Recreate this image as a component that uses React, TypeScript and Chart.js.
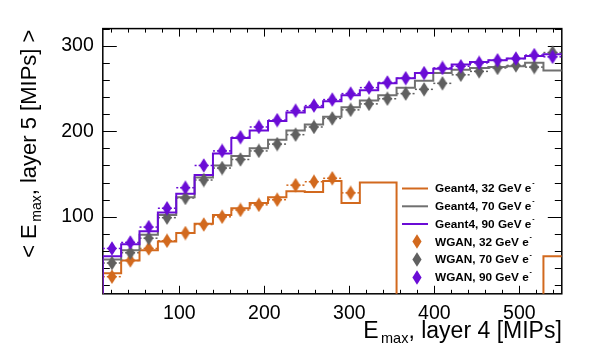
import React, { useEffect, useRef } from 'react';
import { Chart, registerables } from 'chart.js';

Chart.register(...registerables);

// ---- axes ----
const X_MIN = 10;
const X_MAX = 550;
const Y_MIN = 10;
const Y_MAX = 320;
const xTicks = [100, 200, 300, 400, 500];
const yTicks = [100, 200, 300];
const MINOR_STEP = 20;

// ---- binning (25 bins from 10 to 550) ----
const binEdges = [10, 31.6, 53.2, 74.8, 96.4, 118, 139.6, 161.2, 182.8, 204.4, 226, 247.6, 269.2, 290.8, 312.4, 334, 355.6, 377.2, 398.8, 420.4, 442, 463.6, 485.2, 506.8, 528.4, 550];

// ---- Geant4 histograms ----
const geant32 = [34, 49, 61, 71, 81, 92, 102, 110, 116, 123, 130, 129, 142, 116, 140, 140, 0, 0, 0, 0, 0, 0, 0, 0, 54];
const geant70 = [50, 61, 79, 102, 123, 146, 160, 171, 180, 190, 201, 208, 217, 228, 236, 242, 251, 259, 268, 272, 274, 275, 276, 280, 271];
const geant90 = [54, 68, 83, 105, 127, 149, 174, 192, 201, 212, 222, 228, 235, 242, 248, 256, 262, 268, 273, 278, 281, 283, 285, 288, 290];

// ---- WGAN points ----
const wgan32 = [30, 49, 63, 72, 81, 91, 100, 108, 114, 120, 137, 141, 145, 128, null, null, null, null, null, null, null, null, null, null, null];
const wgan70 = [46, 58, 75, 99, 122, 143, 157, 167, 177, 185, 196, 205, 215, 225, 232, 238, 244, 249, 256, 266, 270, 274, 277, 275, 292];
const wgan90 = [63, 70, 88, 110, 134, 160, 177, 193, 205, 213, 224, 230, 237, 244, 251, 257, 262, 268, 274, 276, 280, 283, 285, 289, 287];

const legendLabels = ['Geant4, 32 GeV e', 'Geant4, 70 GeV e', 'Geant4, 90 GeV e', 'WGAN, 32 GeV e', 'WGAN, 70 GeV e', 'WGAN, 90 GeV e'];

const ORANGE = '#d2691e';
const GRAY_LINE = '#707070';
const GRAY_MARK = '#606060';
const PURPLE = '#6a0cd6';

const FONT = "'Liberation Sans', Arial, Helvetica, sans-serif";

function makeDiamond(color: string) {
  const c = document.createElement('canvas');
  c.width = 10;
  c.height = 15;
  const ctx = c.getContext('2d')!;
  ctx.fillStyle = color;
  ctx.beginPath();
  ctx.moveTo(5, 0.3);
  ctx.lineTo(9.6, 7.5);
  ctx.lineTo(5, 14.7);
  ctx.lineTo(0.4, 7.5);
  ctx.closePath();
  ctx.fill();
  return c;
}

function histPoints(vals: number[]) {
  const pts: { x: number; y: number }[] = [{ x: binEdges[0], y: Y_MIN }];
  vals.forEach((v, i) => {
    pts.push({ x: binEdges[i], y: v });
    pts.push({ x: binEdges[i + 1], y: v });
  });
  return pts;
}

function markerPoints(vals: (number | null)[]) {
  const pts: { x: number; y: number }[] = [];
  vals.forEach((v, i) => {
    if (v !== null) pts.push({ x: (binEdges[i] + binEdges[i + 1]) / 2, y: v });
  });
  return pts;
}

export default function App() {
  const ref = useRef<HTMLCanvasElement | null>(null);

  useEffect(() => {
    if (!ref.current) return;
    const dOrange = makeDiamond(ORANGE);
    const dGray = makeDiamond(GRAY_MARK);
    const dPurple = makeDiamond(PURPLE);

    const wganSets = [
      { vals: wgan90, color: PURPLE },
      { vals: wgan70, color: GRAY_MARK },
      { vals: wgan32, color: ORANGE },
    ];

    const framePlugin = {
      id: 'rootFrame',
      beforeDatasetsDraw(chart: any) {
        const ctx = chart.ctx as CanvasRenderingContext2D;
        const { left, right, top, bottom } = chart.chartArea;
        const xs = chart.scales.x;
        const ys = chart.scales.y;
        ctx.save();
        ctx.strokeStyle = '#000';
        ctx.lineWidth = 1;
        ctx.beginPath();
        for (let v = MINOR_STEP; v <= X_MAX; v += MINOR_STEP) {
          if (v <= X_MIN) continue;
          const px = Math.round(xs.getPixelForValue(v)) + 0.5;
          const len = xTicks.includes(v) ? 8 : 4;
          ctx.moveTo(px, bottom);
          ctx.lineTo(px, bottom - len);
          ctx.moveTo(px, top);
          ctx.lineTo(px, top + len);
        }
        for (let v = MINOR_STEP; v <= Y_MAX; v += MINOR_STEP) {
          if (v <= Y_MIN) continue;
          const py = Math.round(ys.getPixelForValue(v)) + 0.5;
          const len = yTicks.includes(v) ? 14 : 7;
          ctx.moveTo(left, py);
          ctx.lineTo(left + len, py);
          ctx.moveTo(right, py);
          ctx.lineTo(right - len, py);
        }
        ctx.stroke();
        ctx.lineWidth = 1.5;
        ctx.strokeRect(left, top, right - left, bottom - top);

        // dashed horizontal (x) error bars for WGAN points
        ctx.beginPath();
        ctx.rect(left, top, right - left, bottom - top);
        ctx.clip();
        ctx.lineWidth = 1.5;
        ctx.setLineDash([2, 2]);
        wganSets.forEach((s) => {
          ctx.strokeStyle = s.color;
          s.vals.forEach((v, i) => {
            if (v === null) return;
            const py = ys.getPixelForValue(v);
            const x0 = xs.getPixelForValue(binEdges[i]);
            const x1 = xs.getPixelForValue(binEdges[i + 1]);
            ctx.beginPath();
            ctx.moveTo(x0, py);
            ctx.lineTo(x1, py);
            ctx.stroke();
          });
        });
        ctx.restore();
      },
      afterDraw(chart: any) {
        const ctx = chart.ctx as CanvasRenderingContext2D;
        const { right, top } = chart.chartArea;
        ctx.save();
        ctx.fillStyle = '#000';
        ctx.textBaseline = 'alphabetic';
        // x title
        {
          const big = 23;
          const small = 14.5;
          const main = 'E';
          const sub = 'max';
          const rest = ', layer 4 [MIPs]';
          ctx.font = `${big}px ${FONT}`;
          const wM = ctx.measureText(main).width;
          const wR = ctx.measureText(rest).width;
          ctx.font = `${small}px ${FONT}`;
          const wS = ctx.measureText(sub).width;
          const gap = 2.5;
          const total = wM + gap + wS + wR;
          let x = right - total;
          const base = 338;
          ctx.font = `${big}px ${FONT}`;
          ctx.fillText(main, x, base);
          x += wM + gap;
          ctx.font = `${small}px ${FONT}`;
          ctx.fillText(sub, x, base + 5);
          x += wS;
          ctx.font = `${big}px ${FONT}`;
          ctx.fillText(rest, x, base);
        }
        // y title (rotated)
        {
          const big = 22;
          const small = 14;
          const pre = '< E';
          const sub = 'max';
          const rest = ', layer 5 [MIPs] >';
          ctx.font = `${big}px ${FONT}`;
          const wP = ctx.measureText(pre).width;
          const wR = ctx.measureText(rest).width;
          ctx.font = `${small}px ${FONT}`;
          const wS = ctx.measureText(sub).width;
          const gap = 2.5;
          const total = wP + gap + wS + wR;
          ctx.save();
          ctx.translate(36, top + 1 + total);
          ctx.rotate(-Math.PI / 2);
          let x = 0;
          ctx.font = `${big}px ${FONT}`;
          ctx.fillText(pre, x, 0);
          x += wP + gap;
          ctx.font = `${small}px ${FONT}`;
          ctx.fillText(sub, x, 5);
          x += wS;
          ctx.font = `${big}px ${FONT}`;
          ctx.fillText(rest, x, 0);
          ctx.restore();
        }
        // legend
        const rowY = [188.5, 206.3, 224, 241.8, 259.6, 277.4];
        const colors = [ORANGE, GRAY_LINE, PURPLE];
        const marks = [dOrange, dGray, dPurple];
        ctx.textBaseline = 'middle';
        legendLabels.forEach((lab, i) => {
          const y = rowY[i];
          if (i < 3) {
            ctx.strokeStyle = colors[i];
            ctx.lineWidth = 2;
            ctx.beginPath();
            ctx.moveTo(402, y);
            ctx.lineTo(428, y);
            ctx.stroke();
          } else {
            const m = marks[i - 3];
            ctx.drawImage(m, 417 - m.width / 2, Math.round(y - m.height / 2));
          }
          ctx.fillStyle = '#000';
          ctx.font = `bold 11.8px ${FONT}`;
          ctx.fillText(lab, 435, y + 0.5);
          const w = ctx.measureText(lab).width;
          ctx.font = `bold 7px ${FONT}`;
          ctx.fillText('-', w + 435 + 0.8, y - 5);
        });
        ctx.restore();
      },
    };

    const chart = new Chart(ref.current, {
      type: 'line',
      data: {
        datasets: [
          { label: 'WGAN 90', data: markerPoints(wgan90), showLine: false, pointStyle: dPurple as any, pointRadius: 6, borderColor: PURPLE, backgroundColor: PURPLE },
          { label: 'WGAN 70', data: markerPoints(wgan70), showLine: false, pointStyle: dGray as any, pointRadius: 6, borderColor: GRAY_MARK, backgroundColor: GRAY_MARK },
          { label: 'WGAN 32', data: markerPoints(wgan32), showLine: false, pointStyle: dOrange as any, pointRadius: 6, borderColor: ORANGE, backgroundColor: ORANGE },
          { label: 'Geant4 90', data: histPoints(geant90), borderColor: PURPLE, borderWidth: 2, pointRadius: 0, tension: 0, fill: false },
          { label: 'Geant4 70', data: histPoints(geant70), borderColor: GRAY_LINE, borderWidth: 2, pointRadius: 0, tension: 0, fill: false },
          { label: 'Geant4 32', data: histPoints(geant32), borderColor: ORANGE, borderWidth: 2, pointRadius: 0, tension: 0, fill: false },
        ] as any,
      },
      options: {
        animation: false,
        responsive: false,
        maintainAspectRatio: false,
        devicePixelRatio: 1,
        layout: { padding: { top: 28.6, right: 48.2, left: 0, bottom: 0 } },
        plugins: { legend: { display: false }, tooltip: { enabled: false } },
        scales: {
          x: {
            type: 'linear',
            min: X_MIN,
            max: X_MAX,
            grid: { display: false, drawTicks: false },
            border: { display: false },
            ticks: { font: { family: FONT, size: 19.5 }, color: '#000', padding: 8, maxRotation: 0 },
            afterBuildTicks: (axis: any) => { axis.ticks = xTicks.map((v) => ({ value: v })); },
            afterFit: (s: any) => { s.height = 65.2; },
          },
          y: {
            type: 'linear',
            min: Y_MIN,
            max: Y_MAX,
            grid: { display: false, drawTicks: false },
            border: { display: false },
            ticks: { font: { family: FONT, size: 19.5 }, color: '#000', padding: 9 },
            afterBuildTicks: (axis: any) => { axis.ticks = yTicks.map((v) => ({ value: v })); },
            afterFit: (s: any) => { s.width = 102.8; },
          },
        },
      } as any,
      plugins: [framePlugin],
    });
    return () => chart.destroy();
  }, []);

  return (
    <div style={{ position: 'fixed', left: 0, top: 0, width: 610, height: 359, background: '#fff' }}>
      <canvas ref={ref} width={610} height={359} style={{ width: 610, height: 359 }} />
    </div>
  );
}
